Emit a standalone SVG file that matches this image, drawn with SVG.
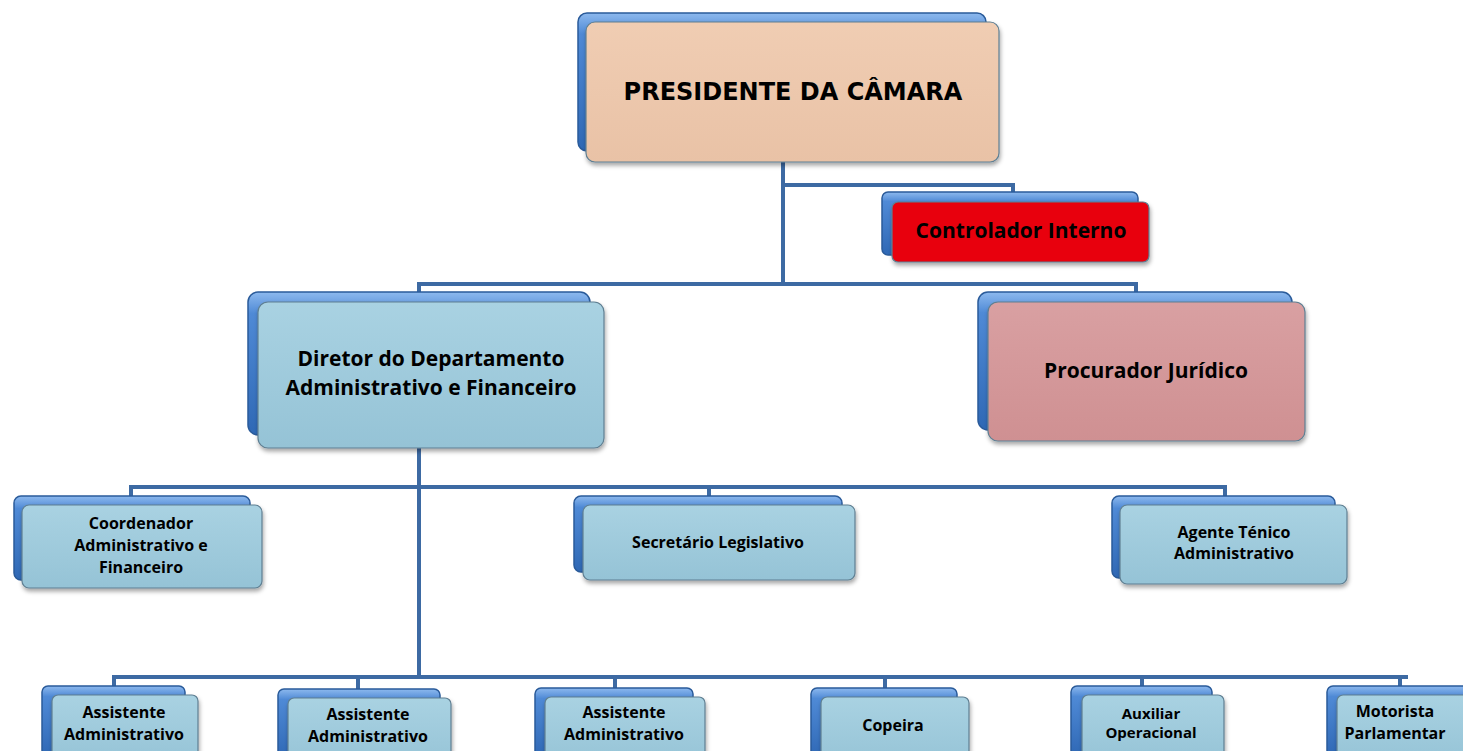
<svg xmlns="http://www.w3.org/2000/svg" width="1463" height="751" viewBox="0 0 1463 751">
<style>
.back{fill:url(#gBack);stroke:#2a5b9a;stroke-width:1.5}
.front{stroke:#5f7f92;stroke-width:1.2;filter:url(#sh)}
.lb{fill:url(#gLight)}
.t{font-family:"Open Sans",Lato,sans-serif;font-weight:bold;fill:#000;text-anchor:middle}
.conn{fill:none;stroke:#3d6aa3;stroke-width:4}
</style>
<defs>
<linearGradient id="gBack" x1="0" y1="0" x2="0" y2="1">
<stop offset="0" stop-color="#8db9ee"/><stop offset="0.15" stop-color="#4f8ad6"/><stop offset="1" stop-color="#2f68b5"/>
</linearGradient>
<linearGradient id="gLight" x1="0" y1="0" x2="0" y2="1">
<stop offset="0" stop-color="#a9d2e2"/><stop offset="1" stop-color="#95c3d6"/>
</linearGradient>
<linearGradient id="gPeach" x1="0" y1="0" x2="0" y2="1">
<stop offset="0" stop-color="#f0cdb3"/><stop offset="1" stop-color="#e9c2a6"/>
</linearGradient>
<linearGradient id="gRose" x1="0" y1="0" x2="0" y2="1">
<stop offset="0" stop-color="#d9a0a2"/><stop offset="1" stop-color="#cf9092"/>
</linearGradient>
<filter id="sh" x="-10%" y="-10%" width="125%" height="130%">
<feDropShadow dx="1" dy="3" stdDeviation="2" flood-color="#000" flood-opacity="0.35"/>
</filter>
</defs>

<g id="connectors">
<path class="conn" d="M783 162V284M783 185H1013V194M419 293V284H1136V293"/>
<path class="conn" d="M419 448V677M131 496V487H1225V496M709 487V496"/>
<path class="conn" d="M114 686V677H1408M358 677V689M615 677V688M885 677V688M1142 677V686M1400 677V686"/>
</g>

<g id="presidente">
<rect class="back" x="578" y="13" width="408" height="138" rx="9"/>
<rect class="front" x="586" y="22" width="413" height="140" rx="9" fill="url(#gPeach)"/>
<text x="793" y="100" font-family="DejaVu Sans,Verdana,sans-serif" font-weight="bold" font-size="24" text-anchor="middle">PRESIDENTE DA CÂMARA</text>
</g>

<g id="controlador">
<rect class="back" x="882" y="192" width="256" height="63" rx="6"/>
<rect class="front" x="892" y="202" width="257" height="60" rx="6" fill="#e8000c"/>
<text class="t" x="1021" y="238" font-size="21">Controlador Interno</text>
</g>

<g id="diretor">
<rect class="back" x="248" y="292" width="342" height="143" rx="10"/>
<rect class="front lb" x="258" y="302" width="346" height="146" rx="10"/>
<text class="t" x="431" y="366" font-size="21">Diretor do Departamento</text>
<text class="t" x="431" y="395" font-size="21">Administrativo e Financeiro</text>
</g>

<g id="procurador">
<rect class="back" x="978" y="292" width="314" height="138" rx="10"/>
<rect class="front" x="988" y="302" width="317" height="139" rx="10" fill="url(#gRose)"/>
<text class="t" x="1146" y="378" font-size="21">Procurador Jurídico</text>
</g>

<g id="coordenador">
<rect class="back" x="14" y="496" width="236" height="84" rx="7"/>
<rect class="front lb" x="22" y="505" width="240" height="83" rx="7"/>
<text class="t" x="141" y="529" font-size="16">Coordenador</text>
<text class="t" x="141" y="551" font-size="16">Administrativo e</text>
<text class="t" x="141" y="573" font-size="16">Financeiro</text>
</g>

<g id="secretario">
<rect class="back" x="574" y="496" width="268" height="76" rx="7"/>
<rect class="front lb" x="583" y="505" width="272" height="75" rx="7"/>
<text class="t" x="718" y="548" font-size="16">Secretário Legislativo</text>
</g>

<g id="agente">
<rect class="back" x="1112" y="496" width="223" height="82" rx="7"/>
<rect class="front lb" x="1120" y="505" width="227" height="79" rx="7"/>
<text class="t" x="1234" y="538" font-size="16">Agente Ténico</text>
<text class="t" x="1234" y="559" font-size="16">Administrativo</text>
</g>

<g id="assistente1">
<rect class="back" x="42" y="686" width="143" height="70" rx="6"/>
<rect class="front lb" x="52" y="695" width="146" height="70" rx="6"/>
<text class="t" x="124" y="718" font-size="16">Assistente</text>
<text class="t" x="124" y="740" font-size="16">Administrativo</text>
</g>

<g id="assistente2">
<rect class="back" x="278" y="689" width="162" height="70" rx="6"/>
<rect class="front lb" x="288" y="698" width="163" height="70" rx="6"/>
<text class="t" x="368" y="720" font-size="16">Assistente</text>
<text class="t" x="368" y="742" font-size="16">Administrativo</text>
</g>

<g id="assistente3">
<rect class="back" x="535" y="688" width="158" height="70" rx="6"/>
<rect class="front lb" x="545" y="697" width="160" height="70" rx="6"/>
<text class="t" x="624" y="718" font-size="16">Assistente</text>
<text class="t" x="624" y="740" font-size="16">Administrativo</text>
</g>

<g id="copeira">
<rect class="back" x="811" y="688" width="146" height="70" rx="6"/>
<rect class="front lb" x="821" y="697" width="148" height="70" rx="6"/>
<text class="t" x="893" y="731" font-size="16">Copeira</text>
</g>

<g id="auxiliar">
<rect class="back" x="1071" y="686" width="141" height="70" rx="6"/>
<rect class="front lb" x="1082" y="695" width="142" height="70" rx="6"/>
<text class="t" x="1151" y="719" font-size="15">Auxiliar</text>
<text class="t" x="1151" y="738" font-size="15">Operacional</text>
</g>

<g id="motorista">
<rect class="back" x="1327" y="686" width="150" height="70" rx="6"/>
<rect class="front lb" x="1337" y="695" width="150" height="70" rx="6"/>
<text class="t" x="1395" y="717" font-size="16">Motorista</text>
<text class="t" x="1395" y="739" font-size="16">Parlamentar</text>
</g>
</svg>
